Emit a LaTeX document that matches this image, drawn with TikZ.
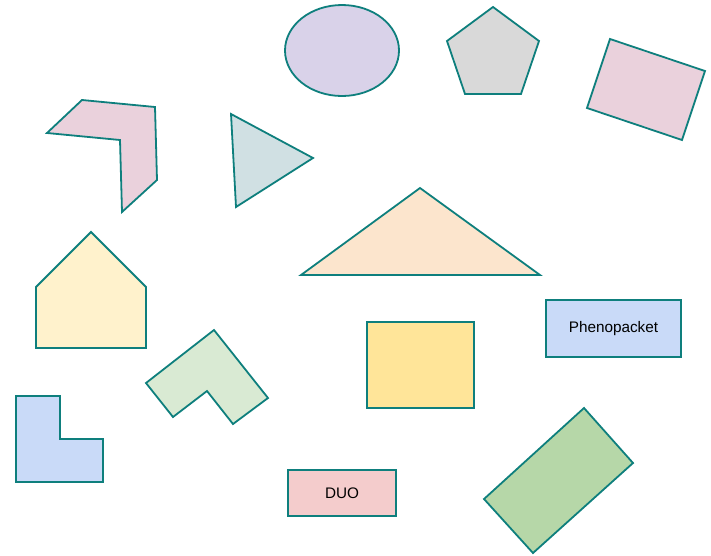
\documentclass[tikz,border=0pt]{standalone}
\usepackage{fontspec}
\setmainfont{Liberation Sans}
\usetikzlibrary{shapes.geometric}
\definecolor{edge}{HTML}{0E7F7D}
\definecolor{cpink}{HTML}{EAD1DC}
\definecolor{clblue}{HTML}{D0E0E3}
\definecolor{cpurple}{HTML}{D9D2E9}
\definecolor{cgray}{HTML}{D9D9D9}
\definecolor{cpeach}{HTML}{FCE5CD}
\definecolor{ccream}{HTML}{FFF2CC}
\definecolor{clgreen}{HTML}{D9EAD3}
\definecolor{cblue}{HTML}{C9DAF8}
\definecolor{crose}{HTML}{F4CCCC}
\definecolor{cgreen}{HTML}{B6D7A8}
\definecolor{cyellow}{HTML}{FFE599}
\tikzset{
  shapeline/.style={draw=edge, line width=1.8pt, line join=miter},
  textbox/.style={shapeline, rectangle, inner sep=0pt, font=\fontsize{15.3}{18}\selectfont, text=black},
}
\begin{document}
\begin{tikzpicture}[x=1pt,y=-1pt]
\useasboundingbox (0,0) rectangle (711,555);
% chevron
\draw[shapeline, fill=cpink] (82,100) -- (155,107) -- (157,180) -- (122,212) -- (120,140) -- (47,133) -- cycle;
% small triangle
\draw[shapeline, fill=clblue] (231,114) -- (313,158) -- (236,207) -- cycle;
% ellipse
\node[shapeline, ellipse, fill=cpurple, minimum width=114pt, minimum height=91pt, inner sep=0pt] (ell) at (342,50.5) {};
% pentagon
\draw[shapeline, fill=cgray] (493,7) -- (539,41) -- (521,94) -- (465,94) -- (447,41) -- cycle;
% tilted pink rectangle
\draw[shapeline, fill=cpink] (610,39) -- (705,71) -- (682,140) -- (587,108) -- cycle;
% large triangle
\draw[shapeline, fill=cpeach] (420,188) -- (540,275) -- (301,275) -- cycle;
% house
\draw[shapeline, fill=ccream] (91,232) -- (146,287) -- (146,348) -- (36,348) -- (36,287) -- cycle;
% light green L
\draw[shapeline, fill=clgreen] (214,330) -- (268,398) -- (233,424) -- (207,391) -- (173,417) -- (146,383) -- cycle;
% blue L
\draw[shapeline, fill=cblue] (16,396) -- (60,396) -- (60,439) -- (103,439) -- (103,482) -- (16,482) -- cycle;
% yellow square
\draw[shapeline, fill=cyellow] (367,322) rectangle (474,408);
% tilted green rectangle
\draw[shapeline, fill=cgreen] (584,408) -- (633,463) -- (533,553) -- (484,499) -- cycle;
% text boxes
\node[textbox, fill=crose, minimum width=108pt, minimum height=46pt] (duo) at (342,493) {DUO};
\node[textbox, fill=cblue, minimum width=135pt, minimum height=57pt] (pheno) at (613.5,328.5) {Phenopacket};
\end{tikzpicture}
\end{document}
